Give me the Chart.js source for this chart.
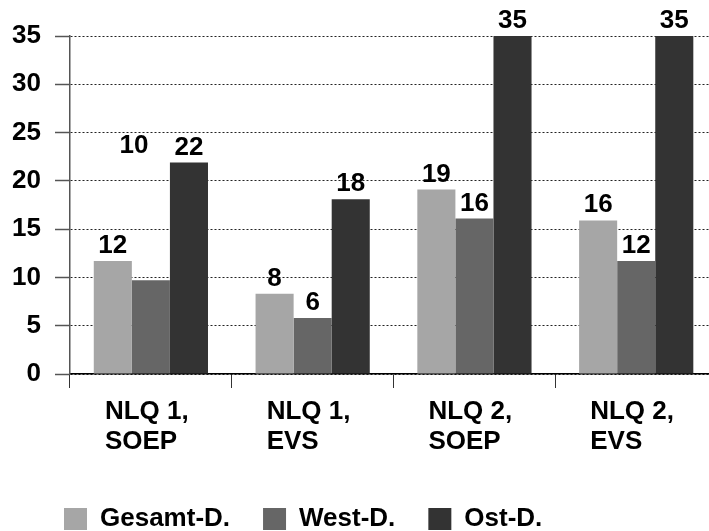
<!DOCTYPE html>
<html>
<head>
<meta charset="utf-8">
<script src="https://cdn.jsdelivr.net/npm/chart.js@4/dist/chart.umd.min.js"></script>
<style>
  html, body { margin: 0; padding: 0; background: #fff; }
  #wrap { width: 709px; height: 531px; overflow: hidden; }
</style>
</head>
<body>
<div id="wrap"><canvas id="nlq" width="729" height="542"></canvas></div>
<script>
// categories (two-line tick labels)
const labels = [
	['NLQ 1,', 'SOEP'],
	['NLQ 1,', 'EVS'],
	['NLQ 2,', 'SOEP'],
	['NLQ 2,', 'EVS'],
];

// values
const gesamt = [11.7, 8.3, 19.1, 15.9];
const west = [9.7, 5.8, 16.1, 11.7];
const ost = [21.9, 18.1, 35, 35];

const yTicks = [0, 5, 10, 15, 20, 25, 30, 35];

const FONT = 'Liberation Sans, Arial, sans-serif';

// numbers above the bars
const valueLabels = {
	id: 'valueLabels',
	afterLayout(chart, args, opts) {
		// legend starts further right than the y axis
		chart.legend.left += opts.legendShift;
		chart.legend.right += opts.legendShift;
	},
	afterDatasetsDraw(chart, args, opts) {
		const ctx = chart.ctx;
		ctx.save();
		ctx.font = 'bold 26px ' + FONT;
		ctx.fillStyle = '#000';
		ctx.textAlign = 'center';
		ctx.textBaseline = 'alphabetic';
		chart.data.datasets.forEach((ds, d) => {
			chart.getDatasetMeta(d).data.forEach((bar, i) => {
				const shift = opts.shift[d + ':' + i] || [0, 0];
				ctx.fillText(Math.round(ds.data[i]), bar.x + shift[0], bar.y - 8 + shift[1]);
			});
		});
		ctx.restore();
	}
};

const data_nlq = {
	labels: labels,
	datasets: [
		{
			label: 'Gesamt-D.',
			data: gesamt,
			backgroundColor: '#a6a6a6',
			borderWidth: 0,
		},
		{
			label: 'West-D.',
			data: west,
			backgroundColor: '#666666',
			borderWidth: 0,
		},
		{
			label: 'Ost-D.',
			data: ost,
			backgroundColor: '#333333',
			borderWidth: 0,
		},
	]
};

const config_nlq = {
	type: 'bar',
	data: data_nlq,
	plugins: [valueLabels],
	options: {
		responsive: false,
		animation: false,
		devicePixelRatio: 1,
		categoryPercentage: 0.706,
		barPercentage: 1,
		layout: {
			padding: { top: 36, left: 0, right: 0, bottom: 0 }
		},
		plugins: {
			legend: {
				position: 'bottom',
				align: 'start',
				labels: {
					boxWidth: 23,
					boxHeight: 22,
					padding: 33,
					color: '#000',
					font: { family: FONT, size: 26, weight: 'bold' },
				}
			},
			title: { display: false },
			tooltip: { enabled: false },
			valueLabels: {
				legendShift: 31,
				// the "10" label sits up beside the 22 in the original
				shift: { '1:0': [-17, -119] }
			}
		},
		scales: {
			x: {
				offset: true,
				afterFit: scale => { scale.height = 99; },
				grid: {
					display: true,
					offset: true,
					drawOnChartArea: false,
					drawTicks: true,
					tickLength: 14,
					tickColor: '#333',
					tickWidth: 1,
				},
				border: { display: true, color: '#000', width: 1.5 },
				ticks: {
					align: 'start',
					labelOffset: -46,
					padding: 9,
					maxRotation: 0,
					autoSkip: false,
					color: '#000',
					font: { family: FONT, size: 26, weight: 'bold', lineHeight: 30 / 26 },
				}
			},
			y: {
				min: 0,
				max: 35,
				afterFit: scale => { scale.width = 70; },
				afterBuildTicks: scale => { scale.ticks = yTicks.map(v => ({ value: v })); },
				grid: {
					color: '#222',
					lineWidth: 1,
					tickLength: 15,
					tickColor: '#555',
					tickWidth: 1.5,
					tickBorderDash: [],
				},
				// dotted grid lines, solid axis line
				border: { display: true, color: '#555', width: 1.5, dash: [2, 2] },
				ticks: {
					padding: 14,
					color: '#000',
					font: { family: FONT, size: 26, weight: 'bold' },
				}
			},
		}
	},
};

const nlq = new Chart(
	document.getElementById('nlq'),
	config_nlq
);
</script>
</body>
</html>
